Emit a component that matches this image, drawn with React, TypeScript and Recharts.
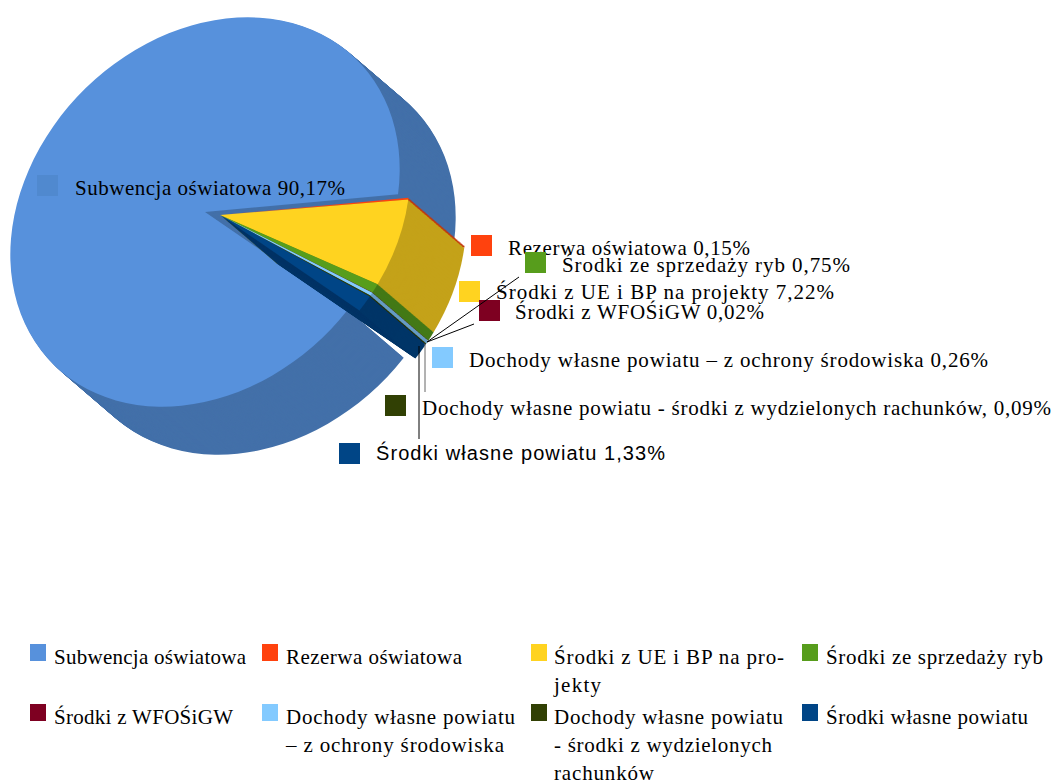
import React from "react";
import { PieChart, Pie, Legend, Sector } from "recharts";

const names = [
  "Subwencja oświatowa",
  "Rezerwa oświatowa",
  "Środki z UE i BP na projekty",
  "Środki ze sprzedaży ryb",
  "Środki z WFOŚiGW",
  "Dochody własne powiatu – z ochrony środowiska",
  "Dochody własne powiatu - środki z wydzielonych rachunków",
  "Środki własne powiatu",
];
const values = [90.17, 0.15, 7.22, 0.75, 0.02, 0.26, 0.09, 1.33];
const colors = ["#5791DC", "#FF420E", "#FFD320", "#579D1C", "#7E0021", "#83CAFF", "#314004", "#004586"];

// callouts next to the pie: swatch corner, text start, baseline, text width
const calloutTexts = [
  "Subwencja oświatowa 90,17%",
  "Rezerwa oświatowa 0,15%",
  "Środki z UE i BP na projekty 7,22%",
  "Środki ze sprzedaży ryb  0,75%",
  "Środki z WFOŚiGW 0,02%",
  "Dochody własne powiatu – z ochrony środowiska 0,26%",
  "Dochody własne powiatu - środki z wydzielonych rachunków, 0,09%",
  "Środki własne powiatu 1,33%",
];
const calloutBoxes = [
  { sx: 37, sy: 175, x: 75, y: 195, w: 270 },
  { sx: 471, sy: 235, x: 508, y: 255, w: 242 },
  { sx: 459, sy: 281, x: 496, y: 299, w: 338 },
  { sx: 525, sy: 252, x: 562, y: 272, w: 288 },
  { sx: 479, sy: 300, x: 515, y: 319, w: 249 },
  { sx: 432, sy: 347, x: 469, y: 367, w: 519 },
  { sx: 385, sy: 395, x: 422, y: 415, w: 629 },
  { sx: 339, sy: 443, x: 376, y: 460, w: 289 },
];
// leader lines from the exploded wedge out to its small slices
const leaders = [
  { x1: 427, y1: 342, x2: 519, y2: 277, color: "#000000" },
  { x1: 427, y1: 342, x2: 474, y2: 324, color: "#000000" },
  { x1: 425, y1: 344, x2: 425, y2: 392, color: "#666666" },
  { x1: 419, y1: 346, x2: 419, y2: 439, color: "#000000" },
];

// legend cells, one line of text per entry in lines
const legendItems = [
  { color: 0, sx: 30, sy: 644, x: 54, lines: [["Subwencja oświatowa", 192]] },
  { color: 1, sx: 262, sy: 644, x: 286, lines: [["Rezerwa oświatowa", 176]] },
  { color: 2, sx: 531, sy: 644, x: 554, lines: [["Środki z UE i BP na pro-", 230], ["jekty", 47]] },
  { color: 3, sx: 802, sy: 644, x: 826, lines: [["Środki ze sprzedaży ryb", 217]] },
  { color: 4, sx: 30, sy: 704, x: 54, lines: [["Środki z WFOŚiGW", 179]] },
  { color: 5, sx: 262, sy: 704, x: 286, lines: [["Dochody własne powiatu", 229], ["– z ochrony środowiska", 218]] },
  { color: 6, sx: 531, sy: 704, x: 554, lines: [["Dochody własne powiatu", 229], ["- środki z wydzielonych", 218], ["rachunków", 100]] },
  { color: 7, sx: 802, sy: 704, x: 826, lines: [["Środki własne powiatu", 202]] },
];

const SERIF = "'Liberation Serif', serif";
const SANS = "'Liberation Sans', sans-serif";

const MAIN_RADIUS = 215;
const WEDGE_RADIUS = 210;
const MAIN_CENTER = { x: 205, y: 212 };
const WEDGE_CENTER = { x: 220, y: 215 };
const DEPTH_STEPS = 56;
const DEPTH_Y = 48 / 56;

const shade = (hex: string, k: number) => {
  const n = parseInt(hex.slice(1), 16);
  const c = [(n >> 16) & 255, (n >> 8) & 255, n & 255].map((v) => Math.round(v * k));
  return `rgb(${c[0]},${c[1]},${c[2]})`;
};

// row table for one pie layer; only the slices of that group get a fill
const layerRows = (group: "main" | "wedge", wall: boolean) =>
  values.map((value, i) => ({
    name: names[i],
    value,
    fill: (i === 0) === (group === "main") ? (wall ? shade(colors[i], 0.77) : colors[i]) : "none",
  }));

// squashes the round sector along the lower-right diagonal and drops it by the layer depth
const tiltedSector = (dx: number, dy: number) => (props: any) => {
  if (props.fill === "none") return <g />;
  const { cx, cy } = props;
  const t = `translate(${dx} ${dy}) translate(${cx} ${cy}) rotate(-45) scale(1 0.8) rotate(45) translate(${-cx} ${-cy})`;
  return (
    <g transform={t}>
      <Sector
        cx={cx}
        cy={cy}
        innerRadius={0}
        outerRadius={props.outerRadius}
        startAngle={props.startAngle}
        endAngle={props.endAngle}
        fill={props.fill}
        stroke="none"
      />
    </g>
  );
};

const renderCallout = (props: any) => {
  const i = props.index;
  const b = calloutBoxes[i];
  return (
    <g key={i}>
      <rect x={b.sx} y={b.sy} width={21} height={21} fill={i === 0 ? "#5089CF" : colors[i]} />
      <text
        x={b.x}
        y={b.y}
        fontFamily={i === 7 ? SANS : SERIF}
        fontSize={i === 7 ? 20 : 21}
        fill="#000000"
        textLength={b.w}
        lengthAdjust="spacing"
        textAnchor="start"
      >
        {calloutTexts[i]}
      </text>
    </g>
  );
};

const renderLegend = () => (
  <svg width={1053} height={781} style={{ display: "block" }}>
    {legendItems.map((item) => (
      <g key={item.sx + "-" + item.sy}>
        <rect x={item.sx} y={item.sy} width={16} height={17} fill={colors[item.color]} />
        {item.lines.map(([line, w], k) => (
          <text
            key={k}
            x={item.x}
            y={item.sy + 20 + k * 28}
            fontFamily={SERIF}
            fontSize={21}
            fill="#000000"
            textLength={w as number}
            lengthAdjust="spacing"
          >
            {line}
          </text>
        ))}
      </g>
    ))}
  </svg>
);

const layerPie = (
  key: string,
  group: "main" | "wedge",
  center: { x: number; y: number },
  radius: number,
  step: number,
  withCallouts: boolean,
) => (
  <Pie
    key={key}
    data={layerRows(group, step > 0)}
    dataKey="value"
    cx={center.x}
    cy={center.y}
    innerRadius={0}
    outerRadius={radius}
    startAngle={-36.5}
    endAngle={-396.5}
    stroke="none"
    isAnimationActive={false}
    labelLine={false}
    label={withCallouts ? renderCallout : false}
    shape={tiltedSector(step, step * DEPTH_Y)}
  />
);

const depths = Array.from({ length: DEPTH_STEPS }, (_, i) => DEPTH_STEPS - i);

const App = () => (
  <div style={{ position: "absolute", left: 0, top: 0, width: 1053, height: 781, background: "#ffffff", overflow: "hidden" }}>
    <PieChart width={1053} height={781} margin={{ top: 0, right: 0, bottom: 0, left: 0 }}>
      {depths.map((d) => layerPie("m" + d, "main", MAIN_CENTER, MAIN_RADIUS, d, false))}
      {layerPie("m0", "main", MAIN_CENTER, MAIN_RADIUS, 0, false)}
      {depths.map((d) => layerPie("w" + d, "wedge", WEDGE_CENTER, WEDGE_RADIUS, d, false))}
      {layerPie("w0", "wedge", WEDGE_CENTER, WEDGE_RADIUS, 0, true)}
      <Legend
        content={renderLegend}
        wrapperStyle={{ left: 0, top: 0, width: 1053, height: 781, pointerEvents: "none" }}
      />
    </PieChart>
    {/* leader lines sit above the pie */}
    <svg width={1053} height={781} style={{ position: "absolute", left: 0, top: 0, pointerEvents: "none" }}>
      {leaders.map((l, i) => (
        <line key={i} x1={l.x1} y1={l.y1} x2={l.x2} y2={l.y2} stroke={l.color} strokeWidth={1} />
      ))}
    </svg>
  </div>
);

export default App;
